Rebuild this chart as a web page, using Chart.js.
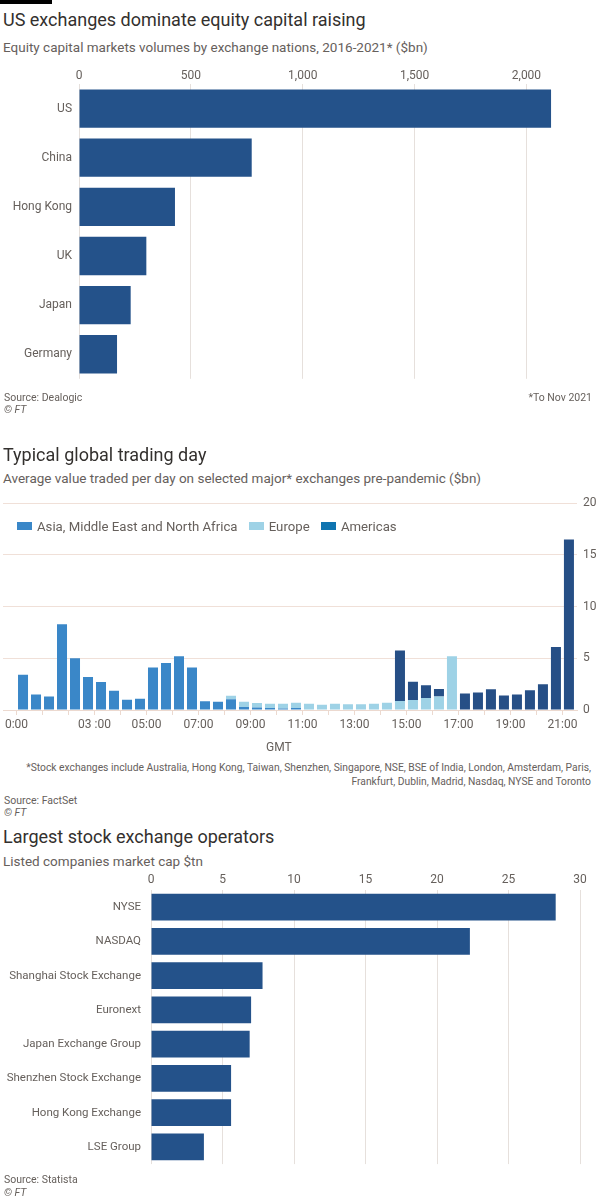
<!DOCTYPE html>
<html>
<head>
<meta charset="utf-8">
<script src="https://cdn.jsdelivr.net/npm/chart.js@4/dist/chart.umd.min.js"></script>
<style>
  body { margin: 0; width: 600px; height: 1200px; background: #fff; position: relative; overflow: hidden;
         font-family: Roboto, "Noto Sans", sans-serif; }
  .t { position: absolute; white-space: nowrap; }
  .title { left: 3px; font-size: 18px; line-height: 24px; color: #33302e; }
  .sub { left: 3px; font-size: 13.5px; line-height: 18px; color: #66605c; }
  .src { left: 4px; font-size: 10.5px; line-height: 13px; color: #66605c; }
  .ft { font-style: italic; }
  .box { position: absolute; left: 0; width: 600px; }
  .key { display: inline-block; width: 15px; height: 8px; margin-right: 5px; vertical-align: 1px; }
  .legend { position: absolute; left: 17px; top: 518px; font-size: 13.2px; line-height: 18px; color: #66605c; white-space: nowrap; }
  .legend span.item { margin-right: 8px; }
</style>
</head>
<body>
<div class="t" style="left:0;top:0;width:52px;height:4px;background:#000"></div>

<div class="t title" style="top:8px">US exchanges dominate equity capital raising</div>
<div class="t sub" style="top:38px">Equity capital markets volumes by exchange nations, 2016-2021* ($bn)</div>
<div class="box" style="top:62px;height:331px"><canvas id="ecm"></canvas></div>
<div class="t src" style="top:391px">Source: Dealogic</div>
<div class="t src ft" style="top:403px">© FT</div>
<div class="t src" style="top:391px;left:auto;right:8px">*To Nov 2021</div>

<div class="t title" style="top:443px">Typical global trading day</div>
<div class="t sub" style="top:469px">Average value traded per day on selected major* exchanges pre-pandemic ($bn)</div>
<div class="box" style="top:490px;height:270px"><canvas id="day"></canvas></div>
<div class="legend">
  <span class="item"><span class="key" style="background:#3a87c8"></span>Asia, Middle East and North Africa</span>
  <span class="item"><span class="key" style="background:#9ed2e6"></span>Europe</span>
  <span class="item"><span class="key" style="background:#0f74b0"></span>Americas</span>
</div>
<div class="t" style="top:739px;left:266px;font-size:12px;line-height:16px;color:#66605c">GMT</div>
<div class="t" style="top:761px;right:9px;font-size:10.3px;line-height:14px;color:#66605c;text-align:right">*Stock exchanges include Australia, Hong Kong, Taiwan, Shenzhen, Singapore, NSE, BSE of India, London, Amsterdam, Paris,<br>Frankfurt, Dublin, Madrid, Nasdaq, NYSE and Toronto</div>
<div class="t src" style="top:794px">Source: FactSet</div>
<div class="t src ft" style="top:806px">© FT</div>

<div class="t title" style="top:825px">Largest stock exchange operators</div>
<div class="t sub" style="top:852px">Listed companies market cap $tn</div>
<div class="box" style="top:866px;height:315px"><canvas id="ops"></canvas></div>
<div class="t src" style="top:1173px">Source: Statista</div>
<div class="t src ft" style="top:1186px">© FT</div>

<script>
// chart 1: equity capital markets volumes
const countries = ["US", "China", "Hong Kong", "UK", "Japan", "Germany"];
const ecmVolumes = [2110, 772, 429, 301, 231, 170];
const ecmTicks = [0, 500, 1000, 1500, 2000];

// chart 2: value traded per half hour (GMT)
const slots = ["00:00", "00:30", "01:00", "01:30", "02:00", "02:30", "03:00", "03:30", "04:00", "04:30",
  "05:00", "05:30", "06:00", "06:30", "07:00", "07:30", "08:00", "08:30", "09:00", "09:30",
  "10:00", "10:30", "11:00", "11:30", "12:00", "12:30", "13:00", "13:30", "14:00", "14:30",
  "15:00", "15:30", "16:00", "16:30", "17:00", "17:30", "18:00", "18:30", "19:00", "19:30",
  "20:00", "20:30", "21:00"];
const asia = [3.4, 1.5, 1.3, 8.3, 5.0, 3.2, 2.7, 1.85, 1.0, 1.1,
  4.1, 4.55, 5.2, 4.1, 0.85, 0.8, 1.05, 0.3, 0.25, 0.2,
  0.15, 0.2, 0, 0, 0, 0, 0, 0, 0, 0,
  0, 0, 0, 0, 0, 0, 0, 0, 0, 0,
  0, 0, 0];
const europe = [0, 0, 0, 0, 0, 0, 0, 0, 0, 0,
  0, 0, 0, 0, 0, 0, 0.32, 0.5, 0.42, 0.4,
  0.45, 0.5, 0.6, 0.5, 0.6, 0.55, 0.55, 0.6, 0.7, 0.86,
  0.96, 1.15, 1.3, 5.2, 0, 0, 0, 0, 0, 0,
  0, 0, 0];
const americas = [0, 0, 0, 0, 0, 0, 0, 0, 0, 0,
  0, 0, 0, 0, 0, 0, 0, 0, 0, 0,
  0, 0, 0, 0, 0, 0, 0, 0, 0, 4.9,
  1.78, 1.24, 0.74, 0, 1.6, 1.7, 2.0, 1.4, 1.5, 1.9,
  2.5, 6.1, 16.5];
const hourLabels = ["0:00", "", "", "03 :00", "", "05:00", "", "07:00", "", "09:00", "", "11:00",
  "", "13:00", "", "15:00", "", "17:00", "", "19:00", "", "21:00"];
const valueTicks = [0, 5, 10, 15, 20];

// chart 3: market cap of exchange operators
const operators = ["NYSE", "NASDAQ", "Shanghai Stock Exchange", "Euronext", "Japan Exchange Group",
  "Shenzhen Stock Exchange", "Hong Kong Exchange", "LSE Group"];
const marketCap = [28.3, 22.3, 7.8, 7.0, 6.9, 5.6, 5.6, 3.7];
const capTicks = [0, 5, 10, 15, 20, 25, 30];

Chart.defaults.font.family = "Roboto, 'Noto Sans', sans-serif";
Chart.defaults.color = "#66605c";
Chart.defaults.animation = false;

const navy = "#24528a";

function hbar(id, labels, values, ticks, max, yWidth, xHeight, pad, labelSize, xPad, fmt) {
  return new Chart(document.getElementById(id), {
    type: "bar",
    data: {
      labels: labels,
      datasets: [{ data: values, backgroundColor: navy, barPercentage: 0.78, categoryPercentage: 1 }]
    },
    options: {
      indexAxis: "y",
      responsive: true,
      maintainAspectRatio: false,
      layout: { padding: pad },
      plugins: { legend: { display: false }, tooltip: { enabled: false } },
      scales: {
        x: {
          position: "top",
          min: 0,
          max: max,
          afterBuildTicks: (axis) => { axis.ticks = ticks.map((v) => ({ value: v })); },
          afterFit: (axis) => { axis.height = xHeight; },
          grid: { color: "#e6e0dc", drawTicks: false },
          border: { display: false },
          ticks: { padding: xPad, font: { size: 12 }, callback: fmt }
        },
        y: {
          afterFit: (axis) => { axis.width = yWidth; },
          grid: { display: false, drawTicks: false },
          border: { display: false },
          ticks: { padding: yWidth > 100 ? 10 : 7, font: { size: labelSize } }
        }
      }
    }
  });
}

hbar("ecm", countries, ecmVolumes, ecmTicks, 2150, 79, 22, { right: 40, bottom: 4 }, 12, 1,
  (v) => v.toLocaleString("en-US"));

hbar("ops", operators, marketCap, capTicks, 30, 151, 24, { right: 20, bottom: 7 }, 11.5, 3,
  (v) => v);

// slot "HH:MM" -> centre of the half-hour bar, in hours
const slotX = (s) => {
  const [h, m] = s.split(":").map(Number);
  return h + m / 60 + 0.25;
};
const toPoints = (vals) => vals.map((v, i) => ({ x: slotX(slots[i]), y: v }));

new Chart(document.getElementById("day"), {
  type: "bar",
  data: {
    datasets: [
      { label: "Asia, Middle East and North Africa", data: toPoints(asia), backgroundColor: "#3a87c8", stack: "all" },
      { label: "Europe", data: toPoints(europe), backgroundColor: "#9ed2e6", stack: "all" },
      { label: "Americas", data: toPoints(americas), backgroundColor: "#264f86", stack: "all" }
    ]
  },
  options: {
    responsive: true,
    maintainAspectRatio: false,
    layout: { padding: { top: 11, left: 3 } },
    datasets: { bar: { barPercentage: 0.77, categoryPercentage: 1 } },
    plugins: { legend: { display: false }, tooltip: { enabled: false } },
    scales: {
      x: {
        type: "linear",
        offset: false,
        min: -0.52,
        max: 21.56,
        afterBuildTicks: (axis) => { axis.ticks = hourLabels.map((l, h) => ({ value: h })); },
        afterFit: (axis) => { axis.height = 50; },
        grid: { offset: false, drawOnChartArea: false, drawTicks: true, tickLength: 5, color: "#ecd9cf" },
        border: { display: true, color: "#ecd9cf" },
        ticks: { autoSkip: false, maxRotation: 0, padding: 3, font: { size: 12 },
                 callback: (v, i) => hourLabels[i] }
      },
      y: {
        position: "right",
        stacked: true,
        min: 0,
        max: 20,
        afterBuildTicks: (axis) => { axis.ticks = valueTicks.map((v) => ({ value: v })); },
        afterFit: (axis) => { axis.width = 23; },
        grid: { color: "#f0e0d8", drawTicks: false },
        border: { display: false },
        ticks: { padding: 6, font: { size: 12 } }
      }
    }
  }
});
</script>
</body>
</html>
